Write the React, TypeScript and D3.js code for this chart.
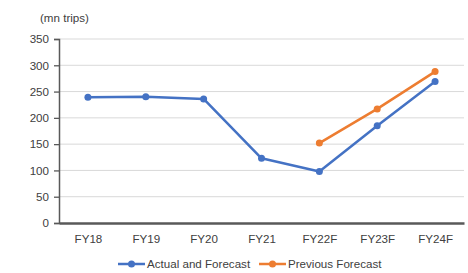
import { useEffect, useRef } from "react";
import * as d3 from "d3";

const categories = ["FY18", "FY19", "FY20", "FY21", "FY22F", "FY23F", "FY24F"];
const actualValues = [239, 240, 236, 123, 98, 185, 269];
const previousCategories = ["FY22F", "FY23F", "FY24F"];
const previousValues = [152, 217, 288];
const yTicks = [0, 50, 100, 150, 200, 250, 300, 350];

const BLUE = "#4472C4";
const ORANGE = "#ED7D31";

export default function App() {
  const svgRef = useRef<SVGSVGElement | null>(null);

  useEffect(() => {
    const svgEl = svgRef.current;
    if (!svgEl) return;
    const width = 468;
    const height = 273;
    const margin = { top: 39, right: 4, bottom: 50, left: 59 };
    const innerW = width - margin.left - margin.right;
    const innerH = height - margin.top - margin.bottom;

    const svg = d3.select(svgEl);
    svg.selectAll("*").remove();

    const font = "'Liberation Sans', Arial, sans-serif";
    const fs = 11.6;

    const x = d3.scalePoint<string>().domain(categories).range([0, innerW]).padding(0.5);
    const y = d3.scaleLinear().domain([0, 350]).range([innerH, 0]);

    const g = svg.append("g").attr("transform", `translate(${margin.left},${margin.top})`);

    // gridlines
    g.selectAll("line.grid")
      .data(yTicks.filter((t) => t > 0))
      .enter()
      .append("line")
      .attr("class", "grid")
      .attr("x1", 0)
      .attr("x2", innerW)
      .attr("y1", (d) => y(d))
      .attr("y2", (d) => y(d))
      .attr("stroke", "#d9d9d9")
      .attr("stroke-width", 1);

    // y axis
    const yAxis = g.append("g").call(d3.axisLeft(y).tickValues(yTicks).tickSize(5).tickPadding(5));
    yAxis.select(".domain").attr("stroke", "#595959").attr("stroke-width", 1.5);
    yAxis.selectAll(".tick line").attr("stroke", "#595959").attr("stroke-width", 1.3);
    yAxis
      .selectAll(".tick text")
      .attr("font-family", font)
      .attr("font-size", fs)
      .attr("fill", "#404040");

    // x axis
    const xAxis = g
      .append("g")
      .attr("transform", `translate(0,${innerH})`)
      .call(d3.axisBottom(x).tickSize(0).tickPadding(12));
    xAxis.select(".domain").attr("stroke", "#595959").attr("stroke-width", 2.5);
    xAxis
      .selectAll(".tick text")
      .attr("font-family", font)
      .attr("font-size", fs)
      .attr("fill", "#404040");

    // unit label
    svg
      .append("text")
      .attr("x", 40)
      .attr("y", 22)
      .attr("font-family", font)
      .attr("font-size", fs)
      .attr("fill", "#404040")
      .text("(mn trips)");

    const line = d3
      .line<{ c: string; v: number }>()
      .x((d) => x(d.c) as number)
      .y((d) => y(d.v));

    const series = [
      { color: ORANGE, pts: previousCategories.map((c, i) => ({ c, v: previousValues[i] })) },
      { color: BLUE, pts: categories.map((c, i) => ({ c, v: actualValues[i] })) },
    ];

    series.forEach((s) => {
      g.append("path")
        .datum(s.pts)
        .attr("fill", "none")
        .attr("stroke", s.color)
        .attr("stroke-width", 2.5)
        .attr("stroke-linejoin", "round")
        .attr("d", line as any);
      g.selectAll(null)
        .data(s.pts)
        .enter()
        .append("circle")
        .attr("cx", (d) => x(d.c) as number)
        .attr("cy", (d) => y(d.v))
        .attr("r", 3.5)
        .attr("fill", s.color);
    });

    // legend
    const legend = [
      { label: "Actual and Forecast", color: BLUE, x: 118 },
      { label: "Previous Forecast", color: ORANGE, x: 259 },
    ];
    const ly = 264;
    legend.forEach((l) => {
      const lg = svg.append("g");
      lg.append("line")
        .attr("x1", l.x)
        .attr("x2", l.x + 27)
        .attr("y1", ly)
        .attr("y2", ly)
        .attr("stroke", l.color)
        .attr("stroke-width", 2.5);
      lg.append("circle").attr("cx", l.x + 13.5).attr("cy", ly).attr("r", 3.5).attr("fill", l.color);
      lg.append("text")
        .attr("x", l.x + 29)
        .attr("y", ly + 4)
        .attr("font-family", font)
        .attr("font-size", fs)
        .attr("fill", "#404040")
        .text(l.label);
    });
  }, []);

  return (
    <svg
      ref={svgRef}
      width={468}
      height={273}
      style={{ position: "absolute", left: 0, top: 0, background: "#fff" }}
    />
  );
}
